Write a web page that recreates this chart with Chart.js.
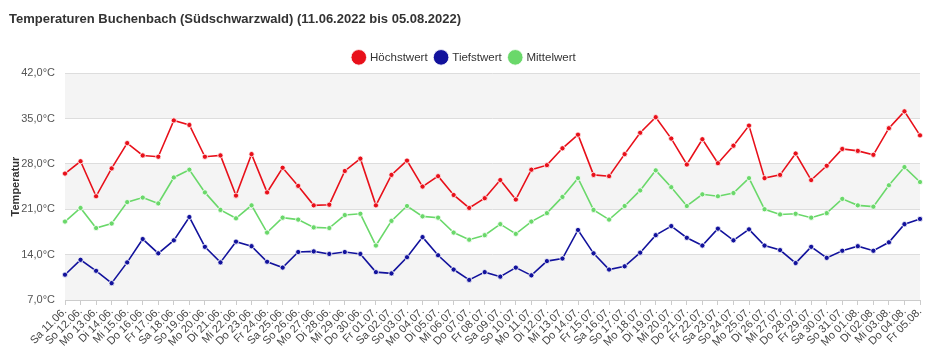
<!DOCTYPE html>
<html>
<head>
<meta charset="utf-8">
<script src="https://cdn.jsdelivr.net/npm/chart.js@4"></script>
<style>
  html, body { margin: 0; padding: 0; background: #fff; }
  #wrap { width: 932px; height: 362px; }
</style>
</head>
<body>
<div id="wrap"><canvas id="tempChart" width="932" height="362"></canvas></div>
<script>
// Daten
const days = [
    'Sa 11.06.', 'So 12.06.', 'Mo 13.06.', 'Di 14.06.', 'Mi 15.06.', 'Do 16.06.', 'Fr 17.06.',
    'Sa 18.06.', 'So 19.06.', 'Mo 20.06.', 'Di 21.06.', 'Mi 22.06.', 'Do 23.06.', 'Fr 24.06.',
    'Sa 25.06.', 'So 26.06.', 'Mo 27.06.', 'Di 28.06.', 'Mi 29.06.', 'Do 30.06.', 'Fr 01.07.',
    'Sa 02.07.', 'So 03.07.', 'Mo 04.07.', 'Di 05.07.', 'Mi 06.07.', 'Do 07.07.', 'Fr 08.07.',
    'Sa 09.07.', 'So 10.07.', 'Mo 11.07.', 'Di 12.07.', 'Mi 13.07.', 'Do 14.07.', 'Fr 15.07.',
    'Sa 16.07.', 'So 17.07.', 'Mo 18.07.', 'Di 19.07.', 'Mi 20.07.', 'Do 21.07.', 'Fr 22.07.',
    'Sa 23.07.', 'So 24.07.', 'Mo 25.07.', 'Di 26.07.', 'Mi 27.07.', 'Do 28.07.', 'Fr 29.07.',
    'Sa 30.07.', 'So 31.07.', 'Mo 01.08.', 'Di 02.08.', 'Mi 03.08.', 'Do 04.08.', 'Fr 05.08.'
];

const hoechstwert = [
    26.5, 28.4, 23.0, 27.3, 31.2, 29.3, 29.1, 34.7, 34.0, 29.1,
    29.3, 23.1, 29.5, 23.6, 27.4, 24.6, 21.6, 21.7, 26.9, 28.8,
    21.6, 26.3, 28.5, 24.5, 26.1, 23.2, 21.2, 22.7, 25.5, 22.5,
    27.1, 27.8, 30.4, 32.5, 26.3, 26.1, 29.5, 32.8, 35.2, 31.9,
    27.9, 31.8, 28.1, 30.8, 33.9, 25.8, 26.3, 29.6, 25.5, 27.7,
    30.3, 30.0, 29.4, 33.5, 36.1, 32.4
];

const tiefstwert = [
    10.9, 13.2, 11.5, 9.6, 12.8, 16.4, 14.2, 16.2, 19.8, 15.2,
    12.8, 16.0, 15.3, 12.9, 12.0, 14.4, 14.5, 14.1, 14.4, 14.1,
    11.3, 11.1, 13.6, 16.7, 13.9, 11.7, 10.1, 11.3, 10.6, 12.0,
    10.8, 13.0, 13.4, 17.8, 14.2, 11.7, 12.2, 14.3, 17.0, 18.4,
    16.6, 15.4, 18.0, 16.2, 17.9, 15.4, 14.7, 12.7, 15.2, 13.5,
    14.6, 15.3, 14.6, 15.9, 18.7, 19.5
];

const mittelwert = [
    19.1, 21.2, 18.1, 18.8, 22.1, 22.8, 21.9, 25.9, 27.1, 23.6,
    20.9, 19.6, 21.6, 17.4, 19.7, 19.4, 18.2, 18.1, 20.1, 20.3,
    15.4, 19.2, 21.5, 19.9, 19.7, 17.4, 16.3, 17.0, 18.7, 17.2,
    19.1, 20.4, 22.9, 25.8, 20.9, 19.4, 21.5, 23.9, 27.0, 24.4,
    21.5, 23.3, 23.0, 23.5, 25.8, 21.0, 20.2, 20.3, 19.7, 20.4,
    22.6, 21.6, 21.4, 24.7, 27.5, 25.2
];

const yTicks = [7, 14, 21, 28, 35, 42];
const greyBands = [[35, 42], [21, 28], [7, 14]];

const FONT = '"Liberation Sans", Arial, sans-serif';

// abwechselnd graue Bänder im Hintergrund
const bandPlugin = {
    id: 'bands',
    beforeDraw(chart) {
        const { ctx, chartArea, scales } = chart;
        ctx.save();
        ctx.fillStyle = '#f4f4f4';
        greyBands.forEach(function(b) {
            const top = scales.y.getPixelForValue(b[1]);
            const bottom = scales.y.getPixelForValue(b[0]);
            ctx.fillRect(chartArea.left, top, chartArea.right - chartArea.left, bottom - top);
        });
        ctx.restore();
    }
};

function series(label, data, color) {
    return {
        label: label,
        data: data,
        borderColor: color,
        backgroundColor: color,
        borderWidth: 1.6,
        pointRadius: 2.6,
        pointBackgroundColor: color,
        pointBorderColor: '#ffffff',
        pointBorderWidth: 0.8,
        tension: 0
    };
}

document.addEventListener('DOMContentLoaded', function() {
    const ctx = document.getElementById('tempChart').getContext('2d');
    new Chart(ctx, {
        type: 'line',
        data: {
            labels: days,
            datasets: [
                series('Höchstwert', hoechstwert, '#e8101a'),
                series('Tiefstwert', tiefstwert, '#12129c'),
                series('Mittelwert', mittelwert, '#6ad86a')
            ]
        },
        plugins: [bandPlugin],
        options: {
            responsive: false,
            animation: false,
            layout: { padding: { left: 9, right: 12, top: 0, bottom: 0 } },
            plugins: {
                title: {
                    display: true,
                    text: 'Temperaturen Buchenbach (Südschwarzwald) (11.06.2022 bis 05.08.2022)',
                    align: 'start',
                    color: '#333',
                    font: { family: FONT, size: 13, weight: 'bold' },
                    padding: { top: 12, bottom: 16 }
                },
                legend: {
                    display: true,
                    labels: {
                        usePointStyle: true,
                        pointStyle: 'circle',
                        boxWidth: 11,
                        boxHeight: 11,
                        padding: 8,
                        color: '#333',
                        font: { family: FONT, size: 11.5 }
                    }
                },
                tooltip: { enabled: false }
            },
            scales: {
                x: {
                    offset: false,
                    grid: {
                        drawOnChartArea: false,
                        drawTicks: true,
                        tickLength: 5,
                        color: '#cccccc'
                    },
                    border: { display: true, color: '#cccccc' },
                    ticks: {
                        autoSkip: false,
                        minRotation: 45,
                        maxRotation: 45,
                        padding: 0,
                        color: '#444',
                        font: { family: FONT, size: 11 }
                    },
                    afterFit: function(scale) { scale.height = 62; }
                },
                y: {
                    min: 7,
                    max: 42,
                    afterBuildTicks: function(scale) {
                        scale.ticks = yTicks.map(function(v) { return { value: v }; });
                    },
                    grid: { drawTicks: false, color: '#dddddd' },
                    border: { display: false },
                    ticks: {
                        padding: 10,
                        color: '#555',
                        font: { family: FONT, size: 11 },
                        callback: function(v) { return v.toFixed(1).replace('.', ',') + '°C'; }
                    },
                    title: {
                        display: true,
                        text: 'Temperatur',
                        color: '#333',
                        font: { family: FONT, size: 11, weight: 'bold' },
                        padding: { top: 0, bottom: 4 }
                    },
                    afterFit: function(scale) { scale.width = 56; }
                }
            }
        }
    });
});
</script>
</body>
</html>
